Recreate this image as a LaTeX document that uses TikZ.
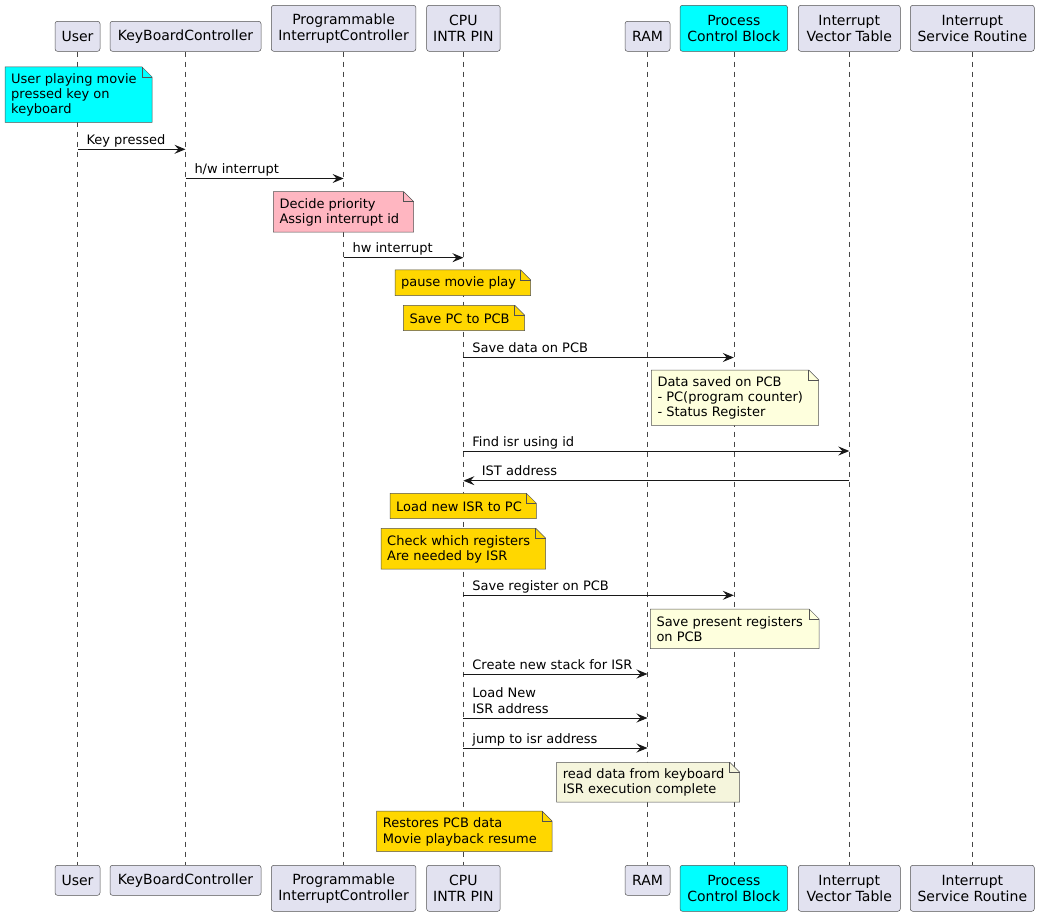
\documentclass[tikz,border=0pt]{standalone}
\usepackage{fontspec}
\setmainfont{DejaVu Sans}
\usetikzlibrary{arrows.meta}
\definecolor{partfill}{HTML}{E2E2F0}
\definecolor{ink}{HTML}{181818}
\definecolor{notey}{HTML}{FEFFDD}
\definecolor{notecyan}{HTML}{00FFFF}
\definecolor{notepink}{HTML}{FFB6C1}
\definecolor{notegold}{HTML}{FFD700}
\definecolor{notebeige}{HTML}{F5F5DC}
\tikzset{
 part/.style={draw=ink!75, line width=0.5pt, fill=partfill, rounded corners=2.5pt, inner sep=0pt, align=center, font=\fontsize{14}{16.3}\selectfont},
 partone/.style={part, minimum height=30pt},
 parttwo/.style={part, minimum height=46pt},
 lifeline/.style={draw=ink!80, line width=0.5pt, dash pattern=on 5pt off 5pt},
 msg/.style={draw=ink, line width=1pt, -{Stealth[length=11pt,width=9pt,inset=4pt]}},
 msglabel/.style={inner sep=0pt, anchor=base west, font=\fontsize{13}{15.2}\selectfont},
 notearea/.style={inner sep=0pt, anchor=north west, draw=none},
 notetext/.style={inner sep=0pt, anchor=west, align=left, font=\fontsize{13}{15.2}\selectfont},
 noteline/.style={draw=ink!75, line width=0.5pt},
}
\newcommand\sqnote[7]{%
 \node[notearea, minimum width={#4-#2}, minimum height={#5-#3}] (#1) at (#2,#3) {};
 \filldraw[noteline, fill=#6] (#1.north west) -- ([xshift=-10pt]#1.north east) -- ([yshift=-10pt]#1.north east) -- (#1.south east) -- (#1.south west) -- cycle;
 \draw[noteline] ([xshift=-10pt]#1.north east) |- ([yshift=-10pt]#1.north east);
 \node[notetext] (#1t) at ([xshift=6pt,yshift=-0.5pt]#1.west) {#7};
}
\begin{document}
\begin{tikzpicture}[x=1pt,y=-1pt]
\fill[white] (0,0) rectangle (1039,917);
\useasboundingbox (0,0) rectangle (1039,917);
% participants top
\node[partone, minimum width=45pt] (uT) at (77.5,36.3) {User};
\node[partone, minimum width=151pt] (kT) at (185.5,36.3) {KeyBoardController};
\node[parttwo, minimum width=144.6pt] (pT) at (343.6,28.3) {Programmable\\InterruptController};
\node[parttwo, minimum width=73.6pt] (cT) at (463.4,28.3) {CPU\\INTR PIN};
\node[partone, minimum width=45pt] (rT) at (647.5,36.3) {RAM};
\node[parttwo, minimum width=107.6pt, fill=notecyan] (bT) at (733.8,28.3) {Process\\Control Block};
\node[parttwo, minimum width=102pt] (iT) at (849.3,28.3) {Interrupt\\Vector Table};
\node[parttwo, minimum width=124pt] (sT) at (972.3,28.3) {Interrupt\\Service Routine};
% participants bottom
\node[partone, minimum width=45pt] (uB) at (77.5,880.3) {User};
\node[partone, minimum width=151pt] (kB) at (185.5,880.3) {KeyBoardController};
\node[parttwo, minimum width=144.6pt] (pB) at (343.6,888.3) {Programmable\\InterruptController};
\node[parttwo, minimum width=73.6pt] (cB) at (463.4,888.3) {CPU\\INTR PIN};
\node[partone, minimum width=45pt] (rB) at (647.5,880.3) {RAM};
\node[parttwo, minimum width=107.6pt, fill=notecyan] (bB) at (733.8,888.3) {Process\\Control Block};
\node[parttwo, minimum width=102pt] (iB) at (849.3,888.3) {Interrupt\\Vector Table};
\node[parttwo, minimum width=124pt] (sB) at (972.3,888.3) {Interrupt\\Service Routine};
% lifelines
\foreach \a in {u,k,p,c,r,b,i,s} {\draw[lifeline] (\a T.south) -- (\a B.north);}
% notes
\sqnote{n1}{5}{67}{151.7}{122}{notecyan}{User playing movie\\pressed key on\\keyboard}
\sqnote{n2}{273.3}{191.7}{413.3}{231.7}{notepink}{Decide priority\\Assign interrupt id}
\sqnote{n3}{395}{270}{530.3}{295.3}{notegold}{pause movie play}
\sqnote{n4}{403.3}{305.3}{524.3}{330.3}{notegold}{Save PC to PCB}
\sqnote{n5}{651.3}{370}{818.3}{425}{notey}{Data saved on PCB\\- PC(program counter)\\- Status Register}
\sqnote{n6}{390}{493.3}{536}{518.3}{notegold}{Load new ISR to PC}
\sqnote{n7}{381}{528.3}{545.3}{568.7}{notegold}{Check which registers\\Are needed by ISR}
\sqnote{n8}{650.3}{609}{818.7}{648.3}{notey}{Save present registers\\on PCB}
\sqnote{n9}{556.7}{762.3}{739.3}{801.7}{notebeige}{read data from keyboard\\ISR execution complete}
\sqnote{n10}{376.7}{811}{551.7}{851.3}{notegold}{Restores PCB data\\Movie playback resume}
% messages
\draw[msg] (uT |- 0,149.3) -- (kT |- 0,149.3) node[pos=0, msglabel, xshift=8.5pt, yshift=5pt] (m1) {Key pressed};
\draw[msg] (kT |- 0,178.5) -- (pT |- 0,178.5) node[pos=0, msglabel, xshift=8.5pt, yshift=5pt] (m2) {h/w interrupt};
\draw[msg] (pT |- 0,257.7) -- (cT |- 0,257.7) node[pos=0, msglabel, xshift=8.5pt, yshift=5pt] (m3) {hw interrupt};
\draw[msg] (cT |- 0,357.5) -- (bT |- 0,357.5) node[pos=0, msglabel, xshift=8.5pt, yshift=5pt] (m4) {Save data on PCB};
\draw[msg] (cT |- 0,451) -- (iT |- 0,451) node[pos=0, msglabel, xshift=8.5pt, yshift=5pt] (m5) {Find isr using id};
\draw[msg] (iT |- 0,480.7) -- (cT |- 0,480.7) node[pos=1, msglabel, xshift=18pt, yshift=5pt] (m6) {IST address};
\draw[msg] (cT |- 0,595.3) -- (bT |- 0,595.3) node[pos=0, msglabel, xshift=8.5pt, yshift=5pt] (m7) {Save register on PCB};
\draw[msg] (cT |- 0,674) -- (rT |- 0,674) node[pos=0, msglabel, xshift=8.5pt, yshift=5pt] (m8) {Create new stack for ISR};
\draw[msg] (cT |- 0,718) -- (rT |- 0,718) node[pos=0, msglabel, xshift=8.5pt, yshift=5pt] (m9) {\begin{tabular}[b]{@{}l@{}}Load New\\ISR address\end{tabular}};
\draw[msg] (cT |- 0,748) -- (rT |- 0,748) node[pos=0, msglabel, xshift=8.5pt, yshift=5pt] (m10) {jump to isr address};
\end{tikzpicture}
\end{document}
